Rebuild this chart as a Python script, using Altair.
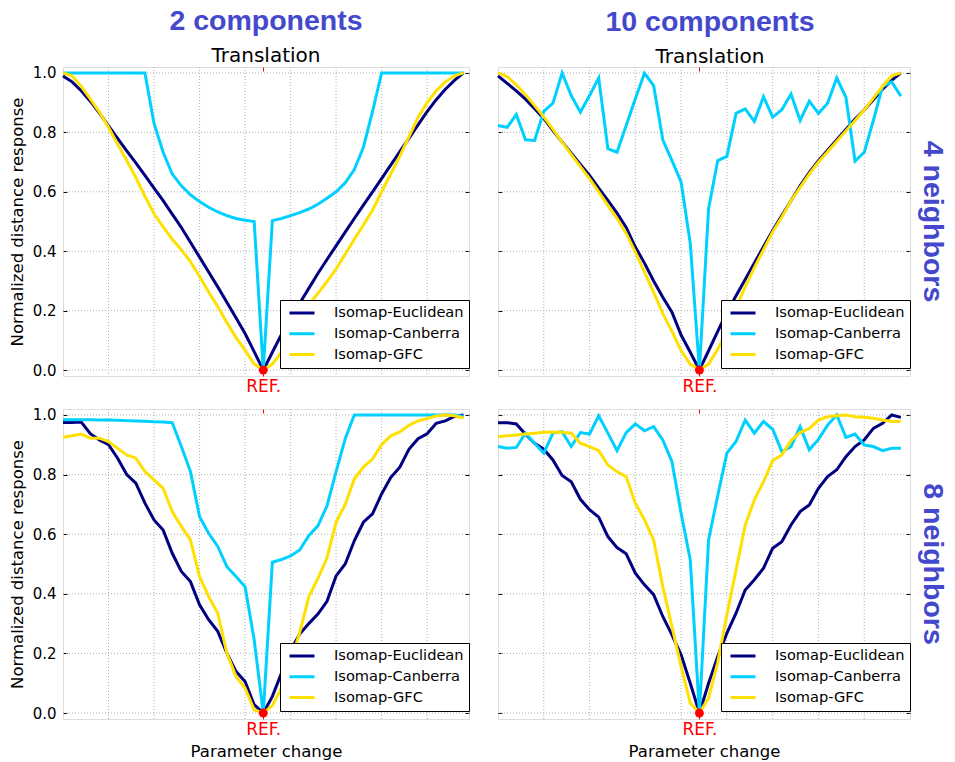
import altair as alt
import pandas as pd

# Parameter steps along the x axis; the reference configuration sits at step 22.
steps = list(range(45))
ref_step = 22

method_names = ["Isomap-Euclidean", "Isomap-Canberra", "Isomap-GFC"]
method_colors = ["#000080", "#00d0ff", "#ffe000"]

# 2 components, 4 neighbors
euc_2c_4n = [0.99, 0.97, 0.94, 0.905, 0.865, 0.822, 0.78, 0.738, 0.697, 0.655, 0.612, 0.57,
             0.525, 0.48, 0.43, 0.38, 0.33, 0.28, 0.228, 0.176, 0.123, 0.062, 0.0,
             0.06, 0.12, 0.175, 0.225, 0.275, 0.325, 0.372, 0.418, 0.464, 0.51, 0.555,
             0.6, 0.644, 0.69, 0.735, 0.78, 0.825, 0.87, 0.91, 0.945, 0.975, 1.0]
can_2c_4n = [1.0, 1.0, 1.0, 1.0, 1.0, 1.0, 1.0, 1.0, 1.0, 1.0, 0.83, 0.733,
             0.66, 0.62, 0.59, 0.567, 0.548, 0.532, 0.52, 0.51, 0.504, 0.5, 0.0,
             0.503, 0.51, 0.52, 0.53, 0.542, 0.558, 0.578, 0.6, 0.63, 0.675, 0.75,
             0.87, 1.0, 1.0, 1.0, 1.0, 1.0, 1.0, 1.0, 1.0, 1.0, 1.0]
gfc_2c_4n = [1.0, 0.99, 0.955, 0.913, 0.868, 0.817, 0.76, 0.705, 0.648, 0.585, 0.526, 0.482,
             0.44, 0.405, 0.365, 0.315, 0.263, 0.213, 0.16, 0.11, 0.067, 0.02, 0.0,
             0.02, 0.06, 0.11, 0.175, 0.22, 0.258, 0.298, 0.34, 0.39, 0.44, 0.488,
             0.538, 0.6, 0.66, 0.72, 0.785, 0.85, 0.9, 0.94, 0.97, 0.99, 1.0]

# 10 components, 4 neighbors
euc_10c_4n = [0.99, 0.965, 0.94, 0.912, 0.88, 0.847, 0.806, 0.768, 0.73, 0.692, 0.655, 0.612,
              0.571, 0.528, 0.48, 0.414, 0.36, 0.3, 0.245, 0.195, 0.118, 0.06, 0.0,
              0.065, 0.13, 0.195, 0.25, 0.305, 0.36, 0.415, 0.47, 0.52, 0.57, 0.62,
              0.665, 0.705, 0.74, 0.775, 0.81, 0.845, 0.875, 0.91, 0.945, 0.975, 1.0]
can_10c_4n = [0.823, 0.817, 0.86, 0.775, 0.773, 0.871, 0.898, 1.0, 0.924, 0.868, 0.924, 0.983,
              0.745, 0.733, 0.823, 0.913, 0.999, 0.957, 0.775, 0.705, 0.633, 0.426, 0.0,
              0.543, 0.705, 0.719, 0.864, 0.879, 0.837, 0.92, 0.851, 0.876, 0.929, 0.84,
              0.905, 0.864, 0.898, 0.983, 0.918, 0.703, 0.733, 0.84, 0.955, 0.97, 0.922]
gfc_10c_4n = [1.0, 0.988, 0.96, 0.927, 0.89, 0.852, 0.81, 0.767, 0.726, 0.685, 0.644, 0.6,
              0.554, 0.51, 0.46, 0.397, 0.33, 0.262, 0.19, 0.13, 0.065, 0.02, 0.0,
              0.02, 0.07, 0.13, 0.21, 0.28, 0.345, 0.405, 0.465, 0.515, 0.57, 0.615,
              0.66, 0.7, 0.735, 0.77, 0.805, 0.84, 0.875, 0.915, 0.955, 0.99, 1.0]

# 2 components, 8 neighbors
euc_2c_8n = [0.975, 0.975, 0.976, 0.937, 0.916, 0.9, 0.855, 0.8, 0.771, 0.704, 0.648, 0.614,
             0.536, 0.475, 0.441, 0.363, 0.313, 0.274, 0.201, 0.14, 0.106, 0.028, 0.0,
             0.056, 0.134, 0.21, 0.265, 0.3, 0.332, 0.375, 0.46, 0.5, 0.578, 0.64,
             0.668, 0.735, 0.79, 0.825, 0.885, 0.92, 0.937, 0.972, 0.98, 0.995, 1.0]
can_2c_8n = [0.984, 0.984, 0.984, 0.984, 0.983, 0.983, 0.982, 0.981, 0.98, 0.979, 0.977, 0.976,
             0.974, 0.894, 0.81, 0.659, 0.603, 0.559, 0.491, 0.458, 0.424, 0.246, 0.0,
             0.506, 0.515, 0.527, 0.547, 0.595, 0.628, 0.695, 0.81, 0.92, 1.0, 1.0,
             1.0, 1.0, 1.0, 1.0, 1.0, 1.0, 1.0, 1.0, 1.0, 1.0, 0.995]
gfc_2c_8n = [0.925, 0.93, 0.936, 0.922, 0.922, 0.911, 0.888, 0.866, 0.855, 0.81, 0.782, 0.754,
             0.676, 0.626, 0.581, 0.458, 0.391, 0.335, 0.201, 0.123, 0.084, 0.011, 0.0,
             0.025, 0.085, 0.17, 0.27, 0.39, 0.452, 0.52, 0.64, 0.7, 0.785, 0.825,
             0.852, 0.9, 0.93, 0.943, 0.965, 0.98, 0.988, 0.997, 1.0, 0.997, 0.99]

# 10 components, 8 neighbors
euc_10c_8n = [0.974, 0.974, 0.97, 0.935, 0.905, 0.885, 0.849, 0.797, 0.776, 0.717, 0.682, 0.657,
              0.592, 0.555, 0.534, 0.469, 0.43, 0.397, 0.324, 0.262, 0.195, 0.1, 0.0,
              0.1, 0.19, 0.268, 0.335, 0.413, 0.447, 0.486, 0.553, 0.575, 0.631, 0.676,
              0.698, 0.754, 0.793, 0.816, 0.86, 0.894, 0.916, 0.955, 0.972, 1.0, 0.992]
can_10c_8n = [0.894, 0.888, 0.891, 0.939, 0.905, 0.872, 0.939, 0.944, 0.894, 0.941, 0.936, 0.997,
              0.939, 0.88, 0.941, 0.97, 0.947, 0.961, 0.916, 0.843, 0.67, 0.514, 0.0,
              0.581, 0.73, 0.872, 0.911, 0.983, 0.939, 0.978, 0.952, 0.877, 0.894, 0.961,
              0.883, 0.918, 0.966, 1.0, 0.925, 0.936, 0.899, 0.894, 0.88, 0.888, 0.888]
gfc_10c_8n = [0.927, 0.93, 0.933, 0.936, 0.939, 0.942, 0.943, 0.942, 0.939, 0.905, 0.894, 0.88,
              0.832, 0.81, 0.793, 0.704, 0.648, 0.581, 0.424, 0.29, 0.156, 0.034, 0.0,
              0.05, 0.17, 0.33, 0.48, 0.63, 0.715, 0.776, 0.847, 0.866, 0.914, 0.941,
              0.955, 0.983, 0.994, 0.997, 1.0, 0.994, 0.992, 0.989, 0.983, 0.978, 0.978]

grid_steps = [5, 10, 15, 20, 25, 30, 35, 40]
grid_levels = [0.0, 0.2, 0.4, 0.6, 0.8, 1.0]

HEAD_BLUE = "#4348cc"
TEXT_FONT = "DejaVu Sans"
HEAD_FONT = "Liberation Sans"
GRID_STYLE = dict(color="#b0b0b0", strokeWidth=1, strokeDash=[1, 2])


def build_panel(euc, can, gfc, x_max, width, height, left_col, bottom_row,
                col_title=None, title_dx=0, row_label=None):
    xs = alt.Scale(domain=[0, x_max], nice=False, zero=False)
    ys = alt.Scale(domain=[-0.02, 1.02], nice=False, zero=False)

    # inward ticks: axes pulled 4px into the frame, ticks 4px long
    x_bottom = alt.Axis(
        orient="bottom", values=[ref_step], offset=-4, tickSize=4, tickColor="red",
        domain=False, grid=False, labelExpr="'REF.'", labelColor="red",
        labelFontSize=17, labelFont=TEXT_FONT, labelPadding=2.5,
        title="Parameter change" if bottom_row else None, titleFontSize=16.5,
        titleFont=TEXT_FONT, titleFontWeight="normal", titleColor="black",
        titlePadding=5.5,
    )
    x_top = alt.Axis(orient="top", values=[ref_step], offset=-4, tickSize=4,
                     tickColor="red", domain=False, grid=False, labels=False, title=None)
    y_left = alt.Axis(
        orient="left", values=grid_levels, offset=-4, tickSize=4, tickColor="black",
        domain=False, grid=False, labels=left_col, format=".1f", labelFontSize=15,
        labelFont=TEXT_FONT, labelColor="black", labelPadding=7,
        title="Normalized distance response" if left_col else None,
        titleFontSize=16.5, titleFont=TEXT_FONT, titleFontWeight="normal",
        titleColor="black", titlePadding=7,
    )
    y_right = alt.Axis(orient="right", values=grid_levels, offset=-4, tickSize=4,
                       tickColor="black", domain=False, grid=False, labels=False,
                       title=None)

    color_enc = alt.Color(
        "method:N",
        scale=alt.Scale(domain=method_names, range=method_colors),
        legend=alt.Legend(
            title=None, orient="none", legendX=width - 189, legendY=height - 76,
            fillColor="white", strokeColor="black", padding=5,
            symbolType="stroke", symbolSize=625, symbolStrokeWidth=3, symbolOffset=3,
            clipHeight=16, rowPadding=4.8, labelFontSize=14.6, labelFont=TEXT_FONT,
            labelColor="black", labelOffset=18, labelLimit=0,
        ),
    )

    v_grid = alt.Chart(pd.DataFrame({"step": grid_steps})).mark_rule(**GRID_STYLE).encode(
        x=alt.X("step:Q", scale=xs, axis=x_bottom)
    )
    h_grid = alt.Chart(pd.DataFrame({"value": grid_levels})).mark_rule(**GRID_STYLE).encode(
        y=alt.Y("value:Q", scale=ys, axis=y_left)
    )

    layers = [h_grid, v_grid]
    for name, vals in zip(method_names, [euc, can, gfc]):
        df = pd.DataFrame({"step": steps, "value": vals, "method": name})
        layers.append(
            alt.Chart(df).mark_line(strokeWidth=3).encode(
                x=alt.X("step:Q", scale=xs, axis=None),
                y=alt.Y("value:Q", scale=ys, axis=None),
                color=color_enc,
            )
        )

    ref_dot = alt.Chart(pd.DataFrame({"step": [ref_step], "value": [0.0]})).mark_point(
        filled=True, size=80, color="red", opacity=1
    ).encode(
        x=alt.X("step:Q", scale=xs, axis=x_top),
        y=alt.Y("value:Q", scale=ys, axis=y_right),
    )
    layers.append(ref_dot)

    if row_label:
        layers.append(
            alt.Chart(pd.DataFrame({"label": [row_label]})).mark_text(
                angle=90, fontSize=28.5, fontWeight="bold", font=HEAD_FONT,
                color=HEAD_BLUE, align="center", baseline="middle"
            ).encode(x=alt.value(width + 23), y=alt.value(height / 2), text="label:N")
        )

    props = dict(width=width, height=height)
    if col_title:
        props["title"] = alt.TitleParams(
            text=col_title, subtitle="Translation", anchor="middle", dx=title_dx,
            font=HEAD_FONT, fontSize=28.5, fontWeight="bold", color=HEAD_BLUE,
            subtitleFont=TEXT_FONT, subtitleFontSize=20, subtitleColor="black",
            subtitlePadding=10, offset=0,
        )
    return alt.layer(*layers).resolve_axis(x="independent", y="independent").properties(**props)


tl = build_panel(euc_2c_4n, can_2c_4n, gfc_2c_4n, 44.6, 406, 309, True, False,
                 col_title="2 components")
tr = build_panel(euc_10c_4n, can_10c_4n, gfc_10c_4n, 45, 412, 309, False, False,
                 col_title="10 components", title_dx=6, row_label="4 neighbors")
bl = build_panel(euc_2c_8n, can_2c_8n, gfc_2c_8n, 44.6, 406, 310, True, True)
br = build_panel(euc_10c_8n, can_10c_8n, gfc_10c_8n, 45, 412, 310, False, True,
                 row_label="8 neighbors")

chart = alt.concat(
    tl, tr, bl, br, columns=2, spacing={"row": 33, "column": 29}, bounds="flush"
).resolve_scale(
    x="independent", y="independent", color="independent"
).resolve_legend(
    color="independent"
).properties(
    padding={"left": 8, "top": 6, "right": 6, "bottom": 0},
    background="white",
).configure_view(
    stroke="black", strokeWidth=1
).configure(
    font=TEXT_FONT
)

chart.save("out.html", embed_options={"renderer": "svg", "actions": False})
